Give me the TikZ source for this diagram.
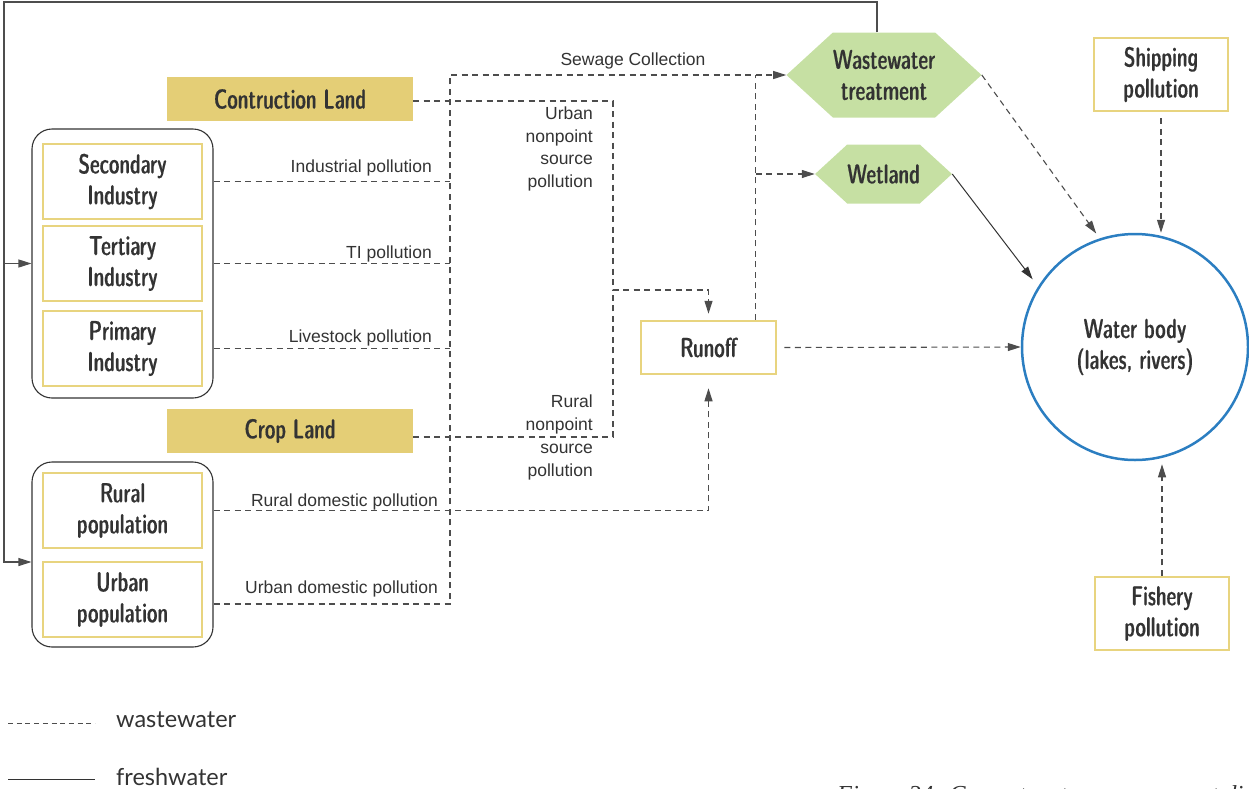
\documentclass[tikz,border=0pt]{standalone}
\usepackage{fontspec}
\setmainfont{Liberation Sans}
\newfontfamily\boxfont[FakeStretch=0.8,FakeBold=0.4]{lmsansdemicond10-regular.otf}
\newfontfamily\legfont{Lato}
\newfontfamily\capfont{Liberation Serif}
\usetikzlibrary{arrows.meta,shapes.symbols,positioning}

\definecolor{landfill}{HTML}{E4CE76}
\definecolor{boxline}{HTML}{E8D47F}
\definecolor{hexfill}{HTML}{C6E0A3}
\definecolor{waterline}{HTML}{2B7EC1}
\definecolor{ink}{HTML}{333333}
\definecolor{wire}{HTML}{4D4D4D}

\begin{document}
\begin{tikzpicture}[x=1pt,y=-1pt,
    boxtext/.style={font=\boxfont\fontsize{27.5}{31}\selectfont, text=ink, align=center, inner sep=0pt},
    land/.style={boxtext, fill=landfill, minimum width=246, minimum height=44},
    group/.style={draw=ink, line width=1.1pt, rounded corners=20pt},
    ybox/.style={boxtext, draw=boxline, line width=2.5pt, minimum width=159, minimum height=75},
    hexa/.style={boxtext, signal, signal to=east and west, signal from=nowhere,
      signal pointer angle=85, fill=hexfill},
    lbl/.style={font=\fontsize{17.5}{22.5}\selectfont, text=ink, inner sep=0pt},
    waste/.style={draw=wire, line width=1.1pt, dash pattern=on 6pt off 4.5pt},
    fresh/.style={draw=wire, line width=1.1pt},
    tip/.style={-{Triangle[length=13pt,width=8pt]}}]
  \useasboundingbox (0,0) rectangle (1249,788);

  % land use
  \node[land] (cland) at (290,99) {Contruction Land};
  \node[land] (crop) at (290,431) {Crop Land};

  % sources
  \node[group, minimum width=181, minimum height=269] (indgrp) at (122.5,263.5) {};
  \node[group, minimum width=181, minimum height=185] (popgrp) at (122.5,554.5) {};
  \node[ybox] (sec) at (122.5,181.5) {Secondary\\Industry};
  \node[ybox] (ter) at (122.5,263.5) {Tertiary\\Industry};
  \node[ybox] (pri) at (122.5,348.5) {Primary\\Industry};
  \node[ybox] (rur) at (122.5,510.5) {Rural\\population};
  \node[ybox] (urb) at (122.5,599.5) {Urban\\population};

  % treatment and sinks
  \node[ybox, minimum width=135, minimum height=53] (runoff) at (708.5,347.5) {Runoff};
  \node[hexa, minimum width=190, minimum height=85] (wwt) at (884,75) {Wastewater\\treatment};
  \node[hexa, minimum width=131, minimum height=59] (wet) at (883.5,174) {Wetland};
  \node[ybox, minimum width=134, minimum height=73] (ship) at (1161,74.5) {Shipping\\pollution};
  \node[ybox, minimum width=134, minimum height=73] (fish) at (1162,613.5) {Fishery\\pollution};
  \node[boxtext, circle, draw=waterline, line width=2.5pt, minimum size=226] (water) at (1135,347) {Water body\\(lakes, rivers)};

  % freshwater loop
  \coordinate (tl) at (4,2);
  \coordinate (popin) at (4,562);
  \draw[fresh, tip] ([xshift=-7pt]wwt.north) |- (tl) -- (popin) -- (popin -| popgrp.west);
  \draw[fresh, tip] (tl |- ter) -- (ter -| indgrp.west);

  % wastewater collection
  \coordinate (col) at (450,75);
  \draw[waste, tip] ([yshift=-4.5pt]urb.center -| popgrp.east) -| (col) -- (wwt.west);
  \draw[waste] (sec -| indgrp.east) -- (sec -| col);
  \draw[waste] (ter -| indgrp.east) -- (ter -| col);
  \draw[waste] (pri -| indgrp.east) -- (pri -| col);
  \node[lbl, anchor=base] (lsew) at (633,65) {Sewage Collection};
  \node[lbl, anchor=base east] (lind) at (432,172) {Industrial pollution};
  \node[lbl, anchor=base east] (lti) at (432,258) {TI pollution};
  \node[lbl, anchor=base east] (lliv) at (432,342) {Livestock pollution};
  \node[lbl, anchor=base east] (lrur) at (438,506) {Rural domestic pollution};
  \node[lbl, anchor=base east] (lurb) at (438,593) {Urban domestic pollution};

  % nonpoint sources to runoff
  \coordinate (np) at (613,290);
  \draw[waste, tip, shorten >=6pt] ([yshift=-2pt]cland.east) -| (np) -| (runoff.north);
  \draw[waste] ([yshift=-6pt]crop.east) -| (np);
  \draw[waste, tip, shorten >=13pt] (rur -| popgrp.east) -| (runoff.south);
  \node[lbl, align=right, anchor=north east] (lunp) at (593,107) {Urban\\nonpoint\\source\\pollution};
  \node[lbl, align=right, anchor=north east, font=\fontsize{17.5}{23}\selectfont] (lrnp) at (593,395) {Rural\\nonpoint\\source\\pollution};

  % runoff onwards
  \coordinate (rup) at ([xshift=47pt]runoff.north);
  \draw[waste] (rup) -- (rup |- col);
  \draw[waste, tip] (rup |- wet.west) -- (wet.west);
  \draw[waste, tip, shorten <=7pt] (runoff.east) -- (water.west);

  % into the water body
  \draw[waste, tip, shorten >=6pt] (wwt.east) -- (water.108);
  \draw[draw=ink, line width=1pt, tip, shorten >=9pt] (wet.east) -- (water.148);
  \draw[waste, tip, shorten <=6pt] (ship.south) -- (ship.south |- water.north);
  \draw[waste, tip, shorten >=3pt] (fish.north) -- (fish.north |- water.south);

  % legend
  \draw[draw=wire, line width=0.9pt, dash pattern=on 5pt off 3.7pt] (8,723) -- (95,723);
  \node[font=\legfont\fontsize{23.5}{26}\selectfont, text=ink, inner sep=0pt, anchor=base west] (lgw) at (116,727) {wastewater};
  \draw[draw=ink, line width=0.9pt] (8,779) -- (95,779);
  \node[font=\legfont\fontsize{23.5}{26}\selectfont, text=ink, inner sep=0pt, anchor=base west] (lgf) at (116,785) {freshwater};

  % caption, cut by the page edge
  \node[font=\capfont\itshape\fontsize{24.4}{27}\selectfont, text=ink, inner sep=0pt, anchor=base west] (cap) at (837,802) {Figure 34: Current water management di};
\end{tikzpicture}
\end{document}
